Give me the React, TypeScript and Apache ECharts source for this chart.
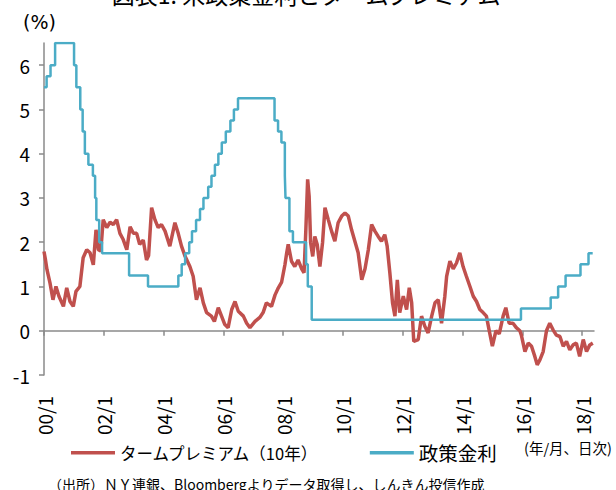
import React, { useEffect, useRef } from 'react';
import * as echarts from 'echarts';

// Term premium (10y): decimal year and value (%)
const tpYears = [
  2000.0, 2000.05, 2000.1, 2000.2, 2000.3, 2000.4, 2000.5, 2000.65, 2000.76, 2000.87, 2000.98,
  2001.07, 2001.2, 2001.31, 2001.43, 2001.54, 2001.65, 2001.74, 2001.82, 2001.9, 2001.98,
  2002.1, 2002.21, 2002.32, 2002.43, 2002.54, 2002.65, 2002.77, 2002.88, 2002.99,
  2003.1, 2003.2, 2003.32, 2003.43, 2003.5, 2003.6, 2003.71, 2003.82, 2003.93,
  2004.05, 2004.21, 2004.38, 2004.49, 2004.6, 2004.72, 2004.88, 2004.99,
  2005.1, 2005.22, 2005.33, 2005.44, 2005.6, 2005.7, 2005.83, 2005.94,
  2006.05, 2006.16, 2006.28, 2006.39, 2006.5, 2006.67, 2006.78, 2006.89,
  2007.06, 2007.22, 2007.33, 2007.44, 2007.61, 2007.73, 2007.84, 2007.95,
  2008.06, 2008.12, 2008.17, 2008.28, 2008.39, 2008.5, 2008.62, 2008.7, 2008.76, 2008.82, 2008.87, 2008.92, 2008.99,
  2009.06, 2009.14, 2009.23, 2009.32, 2009.4, 2009.51, 2009.62, 2009.73, 2009.84, 2009.96,
  2010.07, 2010.18, 2010.29, 2010.4, 2010.51, 2010.63, 2010.74, 2010.85, 2010.96,
  2011.07, 2011.18, 2011.29, 2011.4, 2011.48, 2011.57, 2011.66, 2011.74, 2011.82, 2011.9,
  2012.02, 2012.13, 2012.22, 2012.3, 2012.37, 2012.52, 2012.63, 2012.74, 2012.85, 2012.97,
  2013.08, 2013.19, 2013.3, 2013.41, 2013.47, 2013.58, 2013.69, 2013.8, 2013.91,
  2014.02, 2014.13, 2014.25, 2014.36, 2014.47, 2014.58, 2014.69, 2014.8, 2014.89,
  2015.0, 2015.12, 2015.23, 2015.36, 2015.45, 2015.56, 2015.69, 2015.8, 2015.92, 2015.97,
  2016.09, 2016.2, 2016.31, 2016.42, 2016.5, 2016.59, 2016.7, 2016.81, 2016.92,
  2017.03, 2017.14, 2017.26, 2017.37, 2017.48, 2017.59, 2017.7, 2017.81, 2017.92,
  2018.04, 2018.15, 2018.26, 2018.36,
];
const tpValues = [
  1.79, 1.6, 1.38, 1.08, 0.7, 1.0, 0.78, 0.55, 0.97, 0.66, 0.55,
  0.89, 1.0, 1.65, 1.83, 1.76, 1.49, 2.28, 1.83, 1.8, 2.51,
  2.33, 2.45, 2.4, 2.51, 2.2, 2.06, 1.83, 2.35, 2.2,
  2.2, 1.95, 2.05, 1.6, 1.7, 2.78, 2.51, 2.33, 2.4,
  2.25, 1.91, 2.44, 2.2, 1.91, 1.68, 1.45, 1.23,
  0.7, 0.97, 0.63, 0.41, 0.33, 0.21, 0.52, 0.33,
  0.14, 0.07, 0.48, 0.66, 0.44, 0.33, 0.17, 0.07,
  0.21, 0.3, 0.41, 0.63, 0.55, 0.81, 0.97, 1.1,
  1.49, 1.76, 1.95, 1.57, 1.45, 1.6, 1.4, 1.31, 2.28, 3.42, 3.04, 1.99, 1.68,
  2.13, 1.95, 1.45, 2.0, 2.78, 2.51, 2.25, 2.02, 2.44, 2.59,
  2.66, 2.59, 2.28, 2.02, 1.76, 1.15, 1.4, 1.83, 2.4,
  2.25, 2.13, 2.02, 2.17, 1.91, 1.31, 0.63, 0.33, 1.15, 0.41,
  0.78, 0.48, 0.97, 0.63, -0.24, -0.2, 0.33, 0.1, -0.05, 0.33,
  0.63, 0.7, 0.17, 0.78, 1.23, 1.57, 1.4, 1.53, 1.76,
  1.45, 1.23, 1.0, 0.78, 0.66, 0.48, 0.41, 0.33, 0.02,
  -0.35, 0.0, -0.07, 0.33, 0.52, 0.17, 0.17, 0.07, 0.0, -0.1,
  -0.47, -0.28, -0.35, -0.58, -0.77, -0.66, -0.47, 0.0, 0.17,
  0.02, -0.1, -0.13, -0.35, -0.24, -0.43, -0.32, -0.28, -0.58,
  -0.2, -0.47, -0.32, -0.28,
];

// Policy rate (FF target, upper bound): change dates and new level
const rateDates = [
  '2000-01-01', '2000-02-02', '2000-03-21', '2000-05-16',
  '2001-01-03', '2001-01-31', '2001-03-20', '2001-04-18', '2001-05-15', '2001-06-27',
  '2001-08-21', '2001-09-17', '2001-10-02', '2001-11-06', '2001-12-11',
  '2002-11-06', '2003-06-25',
  '2004-06-30', '2004-08-10', '2004-09-21', '2004-11-10', '2004-12-14',
  '2005-02-02', '2005-03-22', '2005-05-03', '2005-06-30', '2005-08-09', '2005-09-20', '2005-11-01', '2005-12-13',
  '2006-01-31', '2006-03-28', '2006-05-10', '2006-06-29',
  '2007-09-18', '2007-10-31', '2007-12-11',
  '2008-01-22', '2008-01-30', '2008-03-18', '2008-04-30', '2008-10-08', '2008-10-29', '2008-12-16',
  '2015-12-16', '2016-12-14', '2017-03-15', '2017-06-14', '2017-12-13', '2018-03-21', '2018-05-11',
];
const rateValues = [
  5.5, 5.75, 6.0, 6.5,
  6.0, 5.5, 5.0, 4.5, 4.0, 3.75,
  3.5, 3.0, 2.5, 2.0, 1.75,
  1.25, 1.0,
  1.25, 1.5, 1.75, 2.0, 2.25,
  2.5, 2.75, 3.0, 3.25, 3.5, 3.75, 4.0, 4.25,
  4.5, 4.75, 5.0, 5.25,
  4.75, 4.5, 4.25,
  3.5, 3.0, 2.25, 2.0, 1.5, 1.0, 0.25,
  0.5, 0.75, 1.0, 1.25, 1.5, 1.75, 1.75,
];

const xTickYears = [2000, 2002, 2004, 2006, 2008, 2010, 2012, 2014, 2016, 2018];
const yTicks = [-1, 0, 1, 2, 3, 4, 5, 6];

const seriesNames = ['タームプレミアム（10年）', '政策金利'];
const titleText = '図表1: 米政策金利とタームプレミアム';
const unitText = '(%)';
const freqText = '(年/月、日次)';
const sourceText = '（出所）ＮＹ連銀、Bloombergよりデータ取得し、しんきん投信作成';

function toYear(d: string): number {
  const dt = new Date(d + 'T00:00:00Z');
  const y = dt.getUTCFullYear();
  const s = Date.UTC(y, 0, 1);
  const e = Date.UTC(y + 1, 0, 1);
  return y + (dt.getTime() - s) / (e - s);
}

const FONT = '"Noto Sans CJK JP", "Noto Sans", sans-serif';
const AXIS_COLOR = '#8a8a8a';

export default function App() {
  const ref = useRef<HTMLDivElement>(null);
  useEffect(() => {
    if (!ref.current) return;
    const chart = echarts.init(ref.current, undefined, { renderer: 'svg' });
    const tpData = tpYears.map((x, i) => [x, tpValues[i]]);
    const rateData = rateDates.map((d, i) => [toYear(d), rateValues[i]]);
    chart.setOption({
      animation: false,
      textStyle: { fontFamily: FONT },
      grid: { left: 44, right: 22, top: 43, bottom: 115 },
      xAxis: {
        type: 'value',
        min: 2000,
        max: 2018.4,
        interval: 2,
        splitLine: { show: false },
        axisLine: { show: true, onZero: true, lineStyle: { color: AXIS_COLOR, width: 1.5 } },
        axisTick: { show: true, length: 5, customValues: xTickYears, lineStyle: { color: AXIS_COLOR, width: 1.5 } },
        axisLabel: {
          customValues: xTickYears,
          rotate: 90,
          margin: 21,
          fontSize: 19,
          color: '#000',
          fontFamily: FONT,
          formatter: (v: number) => (Math.abs(v - Math.round(v)) < 1e-6 && Math.round(v) % 2 === 0 ? String(Math.round(v)).slice(2) + '/1' : ''),
        },
      },
      yAxis: {
        type: 'value',
        min: -1,
        max: 6.5,
        interval: 1,
        splitLine: { show: false },
        axisLine: { show: true, lineStyle: { color: AXIS_COLOR, width: 1.5 } },
        axisTick: { show: true, length: 5, customValues: yTicks, lineStyle: { color: AXIS_COLOR, width: 1.5 } },
        axisLabel: {
          customValues: yTicks,
          margin: 14,
          fontSize: 19,
          color: '#000',
          fontFamily: FONT,
          formatter: (v: number) => (Number.isInteger(v) ? String(v) : ''),
        },
      },
      legend: {
        left: 66,
        top: 438,
        itemWidth: 44,
        itemHeight: 3.5,
        itemGap: 50,
        icon: 'rect',
        textStyle: { color: '#000', fontFamily: FONT },
        data: [
          { name: seriesNames[0], textStyle: { fontSize: 16.5 } },
          { name: seriesNames[1], textStyle: { fontSize: 19.5 } },
        ],
      },
      graphic: [
        { type: 'text', left: 'center', top: -18, style: { text: titleText, fill: '#000', font: `23px ${FONT}` } },
        { type: 'text', left: 23, top: 12, style: { text: unitText, fill: '#000', font: `19px "DejaVu Sans", sans-serif` } },
        { type: 'text', right: 4, top: 440, style: { text: freqText, fill: '#000', font: `14.5px ${FONT}` } },
        { type: 'text', left: 48, top: 477, style: { text: sourceText, fill: '#000', font: `14px ${FONT}` } },
      ],
      series: [
        {
          name: seriesNames[0],
          type: 'line',
          data: tpData,
          showSymbol: false,
          symbol: 'none',
          lineStyle: { color: '#C0504D', width: 3.5 },
          itemStyle: { color: '#C0504D' },
        },
        {
          name: seriesNames[1],
          type: 'line',
          step: 'end',
          data: rateData,
          showSymbol: false,
          symbol: 'none',
          lineStyle: { color: '#4BACC6', width: 2.5 },
          itemStyle: { color: '#4BACC6' },
        },
      ],
    });
    return () => chart.dispose();
  }, []);
  return <div ref={ref} style={{ width: 616, height: 490, position: 'absolute', left: 0, top: 0 }} />;
}
